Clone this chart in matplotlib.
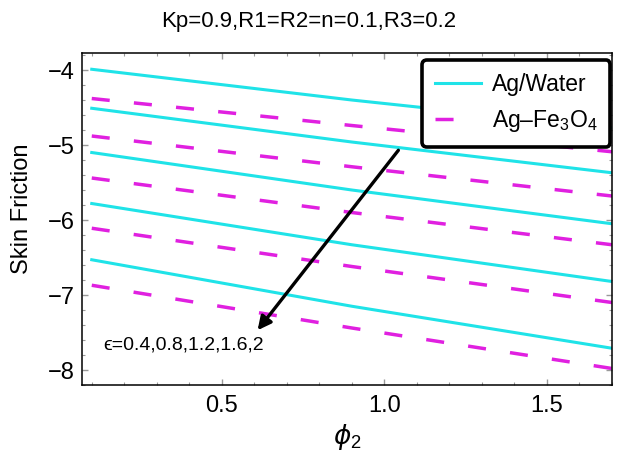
import matplotlib
matplotlib.use("Agg")
import matplotlib.pyplot as plt
from matplotlib.ticker import MultipleLocator

plt.rcParams['font.family'] = ['Liberation Sans', 'DejaVu Sans']
plt.rcParams['mathtext.fontset'] = 'custom'
plt.rcParams['mathtext.rm'] = 'Liberation Sans'
plt.rcParams['mathtext.it'] = 'DejaVu Sans:italic'

# phi2 values where curves were read
phi2 = [0.1, 0.9, 1.7]

# Ag/Water, eps = 0.4, 0.8, 1.2, 1.6, 2
water = [
    [-3.99, -4.40, -4.77],
    [-4.51, -4.96, -5.37],
    [-5.10, -5.60, -6.05],
    [-5.78, -6.33, -6.82],
    [-6.53, -7.15, -7.71],
]
# Ag-Fe3O4
fe3o4 = [
    [-4.38, -4.74, -5.09],
    [-4.88, -5.29, -5.68],
    [-5.44, -5.90, -6.33],
    [-6.11, -6.62, -7.10],
    [-6.87, -7.44, -7.98],
]

title = "Kp=0.9,R1=R2=n=0.1,R3=0.2"
eps_label = "\u03f5=0.4,0.8,1.2,1.6,2"

cyan = '#1fe3e8'
magenta = '#e020e0'

fig = plt.figure(figsize=(6.21, 4.57), dpi=100)
ax = fig.add_axes([82/621, 1 - 385/457, 530/621, 332/457])

for i in range(len(water)):
    ax.plot(phi2, water[i], color=cyan, lw=2.2,
            label='Ag/Water' if i == 0 else None)
    ax.plot(phi2, fe3o4[i], color=magenta, lw=2.5, dashes=(5.2, 7.0),
            label='Ag\u2013Fe$_3$O$_4$' if i == 0 else None)

ax.set_xlim(0.07, 1.7)
ax.set_ylim(-8.2, -3.773)

ax.xaxis.set_major_locator(MultipleLocator(0.5))
ax.xaxis.set_minor_locator(MultipleLocator(0.1))
ax.yaxis.set_major_locator(MultipleLocator(1))
ax.yaxis.set_minor_locator(MultipleLocator(0.2))
ax.xaxis.set_major_formatter(lambda v, p: f"{v:.1f}")
ax.yaxis.set_major_formatter(lambda v, p: f"\u2212{abs(v):.0f}")
ax.tick_params(which='both', direction='in', top=True, right=True,
               color='#999999', labelsize=17)
ax.tick_params(which='major', length=4, width=1)
ax.tick_params(which='minor', length=2, width=0.8)
ax.tick_params(axis='x', pad=7)
ax.tick_params(axis='y', pad=5)
for s in ax.spines.values():
    s.set_linewidth(1.1)

ax.set_xlabel(r'$\phi_2$', fontsize=19)
ax.xaxis.set_label_coords(0.5, -0.11)
ax.set_ylabel('Skin Friction', fontsize=17)
ax.yaxis.set_label_coords(-0.092, 0.53)
fig.text(0.497, 1 - 21/457, title, ha='center', va='center', fontsize=16)

ax.annotate('', xy=(0.61, -7.47), xytext=(1.043, -5.07),
            arrowprops=dict(arrowstyle='-|>', color='black', lw=2.4,
                            mutation_scale=20, shrinkA=0, shrinkB=0))
ax.text(0.135, -7.67, eps_label, fontsize=14, va='center', ha='left')

leg = ax.legend(loc='upper right', bbox_to_anchor=(0.997, 0.979), fontsize=16.5,
                handlelength=2.0, handletextpad=0.5, labelspacing=0.55,
                borderpad=0.55, borderaxespad=0.0, fancybox=True, framealpha=1)
leg.get_frame().set_edgecolor('black')
leg.get_frame().set_linewidth(2.6)
leg.get_lines()[1].set_dashes((5.2, 12))

fig.savefig('out.png', dpi=100)
